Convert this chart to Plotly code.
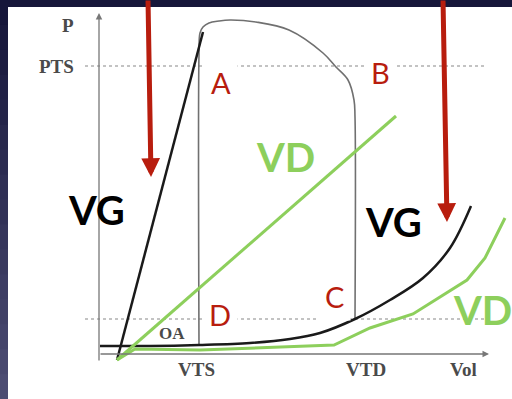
"""Pressure-volume loop of the left (VG) and right (VD) ventricles."""

import plotly.graph_objects as go

# volume / pressure in arbitrary diagram units (origin at the axes corner)
ESPVR_VG_VOL = [18, 104]
ESPVR_VG_P = [-5, 323]

EDPVR_VG_VOL = [1, 51, 100, 151, 191, 221, 256, 291, 324, 351, 372]
EDPVR_VG_P = [9, 9, 10, 12, 16, 22, 36, 55, 77, 107, 149]

LOOP_VOL = [100, 100, 101, 104, 110, 120, 131, 157, 190, 224, 237, 249, 255, 256, 256]
LOOP_P = [10, 300, 322, 328, 332, 334, 335, 333, 325, 302, 288, 275, 255, 238, 36]

ESPVR_VD_VOL = [18, 297]
ESPVR_VD_P = [-5, 239]

EDPVR_VD_VOL = [18, 36, 101, 235, 271, 314, 368, 386, 406]
EDPVR_VD_P = [-5, 6, 5, 10, 27, 41, 75, 97, 137]

PTS = 289
OA = 36

NAVY = "#16163a"
RED = "#b81d0e"
GREEN = "#8dcf5c"
GRAY = "#4a4a4a"

fig = go.Figure()

# reference lines (PTS, OA)
for level in (PTS, OA):
    fig.add_trace(go.Scatter(
        x=[-14, 388], y=[level, level], mode="lines",
        line=dict(color="#b0b0b0", width=1.5, dash="dot"), hoverinfo="skip",
    ))

# loop
fig.add_trace(go.Scatter(
    x=LOOP_VOL, y=LOOP_P, mode="lines", line=dict(color="#707070", width=1.6),
    line_shape="spline", hoverinfo="skip",
))

# ventricle relations
fig.add_trace(go.Scatter(
    x=ESPVR_VG_VOL, y=ESPVR_VG_P, mode="lines", line=dict(color="#1a1a1a", width=2.5),
    hoverinfo="skip",
))
fig.add_trace(go.Scatter(
    x=EDPVR_VG_VOL, y=EDPVR_VG_P, mode="lines", line=dict(color="#1a1a1a", width=2.5),
    line_shape="spline", hoverinfo="skip",
))
fig.add_trace(go.Scatter(
    x=ESPVR_VD_VOL, y=ESPVR_VD_P, mode="lines", line=dict(color=GREEN, width=3),
    hoverinfo="skip",
))
fig.add_trace(go.Scatter(
    x=EDPVR_VD_VOL, y=EDPVR_VD_P, mode="lines", line=dict(color=GREEN, width=3),
    hoverinfo="skip",
))

# slide background bands
shapes = []
n = 16
for i in range(n):
    t = i / (n - 1)
    r = int(0x16 + (0x4c - 0x16) * t)
    g = int(0x16 + (0x4c - 0x16) * t)
    b = int(0x3a + (0x72 - 0x3a) * t)
    shapes.append(dict(
        type="rect", xref="paper", yref="paper", x0=0, x1=8 / 512,
        y0=max(0, 1 - (i + 1.3) / n), y1=1 - i / n, fillcolor=f"rgb({r},{g},{b})",
        line_width=0, layer="below",
    ))
shapes.append(dict(type="rect", xref="paper", yref="paper", x0=0, x1=1, y0=1 - 7 / 399, y1=1,
                   fillcolor=NAVY, line_width=0, layer="below"))

annotations = []

# axes with arrows
annotations.append(dict(x=0, y=342, ax=0, ay=-7, xref="x", yref="y", axref="x", ayref="y",
                        showarrow=True, arrowhead=2, arrowsize=1, arrowwidth=1.3,
                        arrowcolor="#777777", text=""))
annotations.append(dict(x=390, y=1, ax=0, ay=1, xref="x", yref="y", axref="x", ayref="y",
                        showarrow=True, arrowhead=2, arrowsize=1, arrowwidth=1.3,
                        arrowcolor="#777777", text=""))

# red arrows
for tail, head in (((49, 356), (52, 178)), ((344, 356), (348, 133))):
    annotations.append(dict(x=head[0], y=head[1], ax=tail[0], ay=tail[1],
                            xref="x", yref="y", axref="x", ayref="y",
                            showarrow=True, arrowhead=2, arrowsize=0.75, arrowwidth=5,
                            arrowcolor=RED, text=""))

# serif axis labels
for txt, x, y, size in (("P", -31, 330, 19), ("PTS", -43, 289, 19), ("OA", 73, 22, 17),
                        ("VTS", 97, -14, 19), ("VTD", 267, -14, 19), ("Vol", 364, -14, 19)):
    annotations.append(dict(x=x, y=y, text=f"<b>{txt}</b>", showarrow=False,
                            font=dict(family="Liberation Serif", size=size, color=GRAY)))

# point labels
for txt, x, y in (("A", 122, 273), ("B", 281, 283), ("C", 235, 59), ("D", 121, 41)):
    annotations.append(dict(x=x, y=y, text=txt, showarrow=False, bgcolor="white",
                            borderpad=6, font=dict(family="Lato", size=29, color=RED)))

# ventricle labels
for txt, x, y, color in (("VG", -3, 145, "black"), ("VD", 186, 198, GREEN),
                         ("VG", 294, 133, "black"), ("VD", 383, 45, GREEN)):
    annotations.append(dict(x=x, y=y, text=f"<b>{txt}</b>", showarrow=False,
                            font=dict(family="Lato", size=40, color=color)))

fig.update_layout(
    width=512,
    height=399,
    margin=dict(l=0, r=0, t=0, b=0),
    paper_bgcolor="white",
    plot_bgcolor="white",
    showlegend=False,
    shapes=shapes,
    annotations=annotations,
    xaxis=dict(range=[-99, 413], visible=False, fixedrange=True),
    yaxis=dict(range=[-44, 355], visible=False, fixedrange=True),
)

fig.write_html(
    "out.html",
    config={"displayModeBar": False},
    post_script="document.body.style.margin='0';document.body.style.overflow='hidden';",
)
